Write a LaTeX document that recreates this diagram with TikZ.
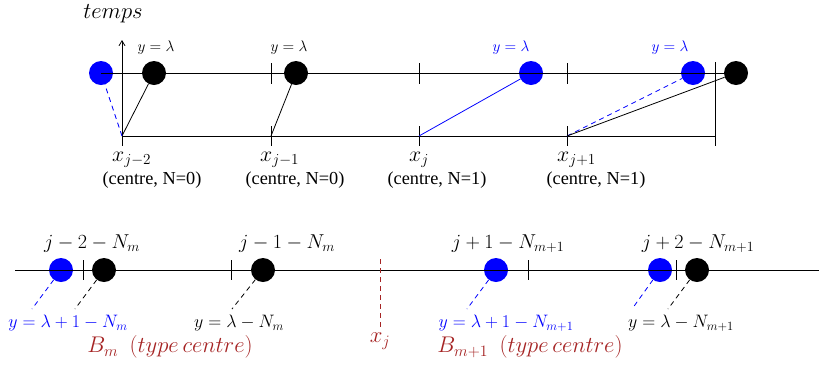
\RequirePackage{fix-cm}
\documentclass[tikz,border=0pt]{standalone}
\usepackage{fontspec}
\setmainfont{Liberation Serif}
\usetikzlibrary{arrows.meta}
\definecolor{dred}{RGB}{165,35,35}
\begin{document}
\begin{tikzpicture}[x=1pt,y=-1pt,
  dot/.style={circle,fill=black,inner sep=0pt,minimum size=24pt},
  bdot/.style={dot,fill=blue},
  ln/.style={line width=0.8pt},
  tk/.style={line width=0.8pt},
  dsh/.style={line width=0.8pt,dash pattern=on 5pt off 4pt},
  lab/.style={inner sep=0pt,font=\fontsize{20.1}{22}\selectfont},
  ylab/.style={inner sep=0pt,font=\fontsize{18}{20}\selectfont},
  small/.style={inner sep=0pt,font=\fontsize{15.3}{17}\selectfont},
  big/.style={inner sep=0pt,font=\fontsize{21.8}{25}\selectfont},
  bred/.style={inner sep=0pt,text=dred,font=\fontsize{22.7}{25}\selectfont},
  ctr/.style={inner sep=0pt,font=\fontsize{18.3}{20}\selectfont},
]
\useasboundingbox (0,0) rectangle (819,365);
% ---------- top diagram ----------
\coordinate (A0) at (122,136);
\coordinate (A1) at (271,136);
\coordinate (A2) at (419,136);
\coordinate (A3) at (567,136);
\coordinate (A4) at (715,136);
\coordinate (U0) at (101,73);
\coordinate (U5) at (736,73);
\coordinate (top) at (122,40);
\node[bdot] (b1) at (101,73) {};
\node[dot] (k1) at (154,73) {};
\node[dot] (k2) at (296,73) {};
\node[bdot] (b2) at (531,73) {};
\node[bdot] (b3) at (693,73) {};
\node[dot] (k3) at (736,73) {};
\draw[ln] (U0) -- (U5);
\draw[ln] (A0) -- (A4);
\draw[ln,-{Straight Barb[length=5pt,width=6pt]}] (A0) -- (top);
\foreach \x in {271,419,567} {
  \draw[tk] (\x,63) -- (\x,84);
  \draw[tk] (\x,126) -- (\x,146);
}
\draw[tk] (122,126) -- (122,146);
\draw[tk] (715,62) -- (715,146);
\draw[ln] (A0) -- (k1);
\draw[dsh,blue] (A0) -- (b1);
\draw[ln] (A1) -- (k2);
\draw[ln,blue] (A2) -- (b2);
\draw[dsh,blue] (A3) -- (b3);
\draw[ln] (A3) -- (k3);
\node[bred,text=black] (temps) at (113,14) {$temps$};
\node[small] (l1) at (156,48) {$y=\lambda$};
\node[small] (l2) at (289,48) {$y=\lambda$};
\node[small,text=blue] (l3) at (511,48) {$y=\lambda$};
\node[small,text=blue] (l4) at (670,48) {$y=\lambda$};
\node[big,anchor=west] (x1) at (112,160) {$x_{j-2}$};
\node[big,anchor=west] (x2) at (260,160) {$x_{j-1}$};
\node[big,anchor=west] (x3) at (409,160) {$x_{j}$};
\node[big,anchor=west] (x4) at (557,160) {$x_{j+1}$};
\node[ctr] (c1) at (152,180) {(centre, N=0)};
\node[ctr] (c2) at (295,180) {(centre, N=0)};
\node[ctr] (c3) at (437,180) {(centre, N=1)};
\node[ctr] (c4) at (596,180) {(centre, N=1)};
% ---------- bottom diagram ----------
\coordinate (L0) at (15,270);
\coordinate (L1) at (819,270);
\node[bdot] (d1) at (61,270) {};
\node[dot] (e1) at (104,270) {};
\node[dot] (e2) at (263,270) {};
\node[bdot] (d2) at (496,270) {};
\node[bdot] (d3) at (660,270) {};
\node[dot] (e3) at (697,270) {};
\draw[ln] (L0) -- (L1);
\foreach \x in {83,231,528,676} \draw[tk] (\x,260) -- (\x,280);
\draw[dsh,dred] (380,259) -- (380,328);
\coordinate (p1) at (32,309);
\coordinate (p2) at (75,309);
\coordinate (p3) at (232,309);
\coordinate (p4) at (467,309);
\coordinate (p5) at (632,309);
\coordinate (p6) at (668,309);
\draw[dsh,blue] (d1) -- (p1);
\draw[dsh] (e1) -- (p2);
\draw[dsh] (e2) -- (p3);
\draw[dsh,blue] (d2) -- (p4);
\draw[dsh,blue] (d3) -- (p5);
\draw[dsh] (e3) -- (p6);
\node[lab] (n1) at (92,244) {$j-2-N_m$};
\node[lab] (n2) at (287,244) {$j-1-N_m$};
\node[lab] (n3) at (508,244) {$j+1-N_{m+1}$};
\node[lab] (n4) at (698,244) {$j+2-N_{m+1}$};
\node[ylab,text=blue] (y1) at (68,323) {$y=\lambda+1-N_m$};
\node[ylab] (y2) at (239,323) {$y=\lambda-N_m$};
\node[ylab,text=blue] (y3) at (506,323) {$y=\lambda+1-N_{m+1}$};
\node[ylab] (y4) at (681,323) {$y=\lambda-N_{m+1}$};
\node[bred] (B1) at (170,347) {$B_m\ \ (type\,centre)$};
\node[bred] (xj) at (380,341) {$x_j$};
\node[bred] (B2) at (530,347) {$B_{m+1}\ \ (type\,centre)$};
\end{tikzpicture}
\end{document}
